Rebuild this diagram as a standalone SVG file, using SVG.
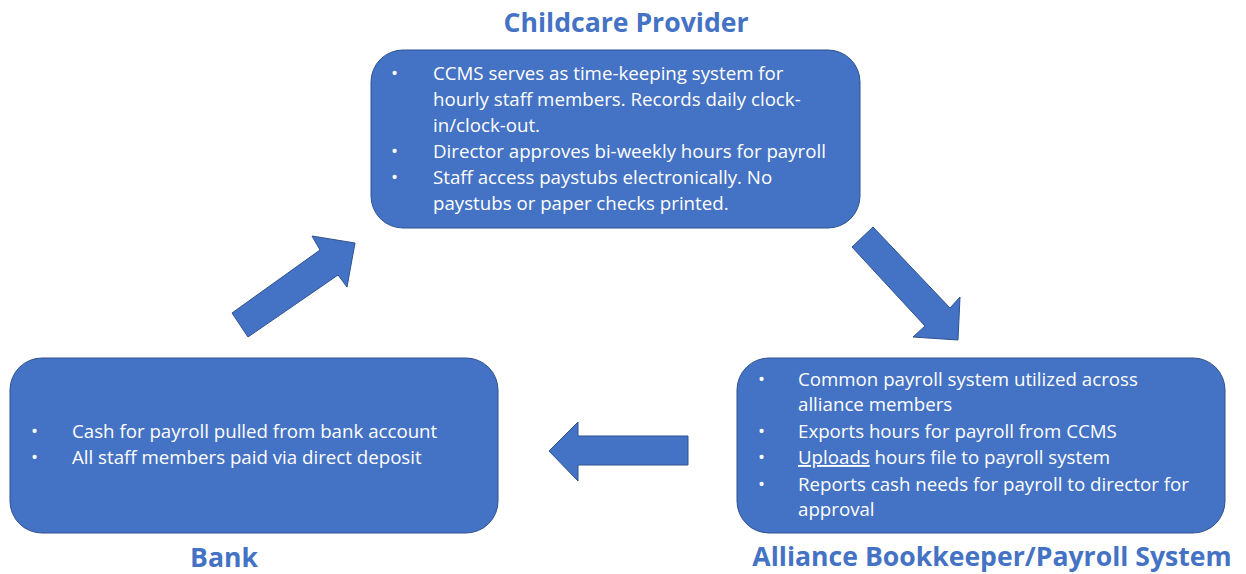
<svg xmlns="http://www.w3.org/2000/svg" width="1246" height="574" viewBox="0 0 1246 574">
<style>
.box{fill:#4472C4;stroke:#2F528F;stroke-width:1}
.arrow{fill:#4472C4;stroke:#2F528F;stroke-width:1}
.title{font-family:"Open Sans","Noto Sans","Liberation Sans",sans-serif;font-weight:700;font-size:26.6px;fill:#4472C4}
.body{font-family:"Open Sans","Noto Sans","Liberation Sans",sans-serif;font-size:18.7px;fill:#FFFFFF}
.dot{font-family:"Open Sans","Noto Sans","Liberation Sans",sans-serif;font-size:18.7px;fill:#FFFFFF}
</style>
<rect width="1246" height="574" fill="#FFFFFF"/>
<g id="connectors">
<polygon class="arrow" points="232,313 320,250 312,236 355,243 347,287 338,275 248,337"/>
<polygon class="arrow" points="873,227 950,308 960,297 958,340 913,337 925,326 852,247"/>
<polygon class="arrow" points="549,451 578,422 578,436 688,436 688,465 578,465 578,481"/>
</g>
<g id="childcare">
<text class="title" x="626" y="32" text-anchor="middle">Childcare Provider</text>
<rect class="box" x="371" y="50" width="489" height="178" rx="32"/>
<g class="body">
<text class="dot" x="391" y="80">•</text><text x="433" y="80">CCMS serves as time-keeping system for</text>
<text x="433" y="106">hourly staff members. Records daily clock-</text>
<text x="433" y="132">in/clock-out.</text>
<text class="dot" x="391" y="158">•</text><text x="433" y="158">Director approves bi-weekly hours for payroll</text>
<text class="dot" x="391" y="184">•</text><text x="433" y="184">Staff access paystubs electronically. No</text>
<text x="433" y="210">paystubs or paper checks printed.</text>
</g>
</g>
<g id="bank">
<rect class="box" x="10" y="358" width="488" height="175" rx="32"/>
<g class="body">
<text class="dot" x="31" y="438">•</text><text x="72" y="438">Cash for payroll pulled from bank account</text>
<text class="dot" x="31" y="464">•</text><text x="72" y="464">All staff members paid via direct deposit</text>
</g>
<text class="title" x="224" y="567" text-anchor="middle">Bank</text>
</g>
<g id="alliance">
<rect class="box" x="737" y="358" width="488" height="175" rx="32"/>
<g class="body">
<text class="dot" x="758" y="386">•</text><text x="798" y="386">Common payroll system utilized across</text>
<text x="798" y="411">alliance members</text>
<text class="dot" x="758" y="438">•</text><text x="798" y="438">Exports hours for payroll from CCMS</text>
<text class="dot" x="758" y="464">•</text><text x="798" y="464"><tspan text-decoration="underline">Uploads</tspan> hours file to payroll system</text>
<text class="dot" x="758" y="491">•</text><text x="798" y="491">Reports cash needs for payroll to director for</text>
<text x="798" y="516">approval</text>
</g>
<text class="title" x="992" y="566" text-anchor="middle">Alliance Bookkeeper/Payroll System</text>
</g>
</svg>
